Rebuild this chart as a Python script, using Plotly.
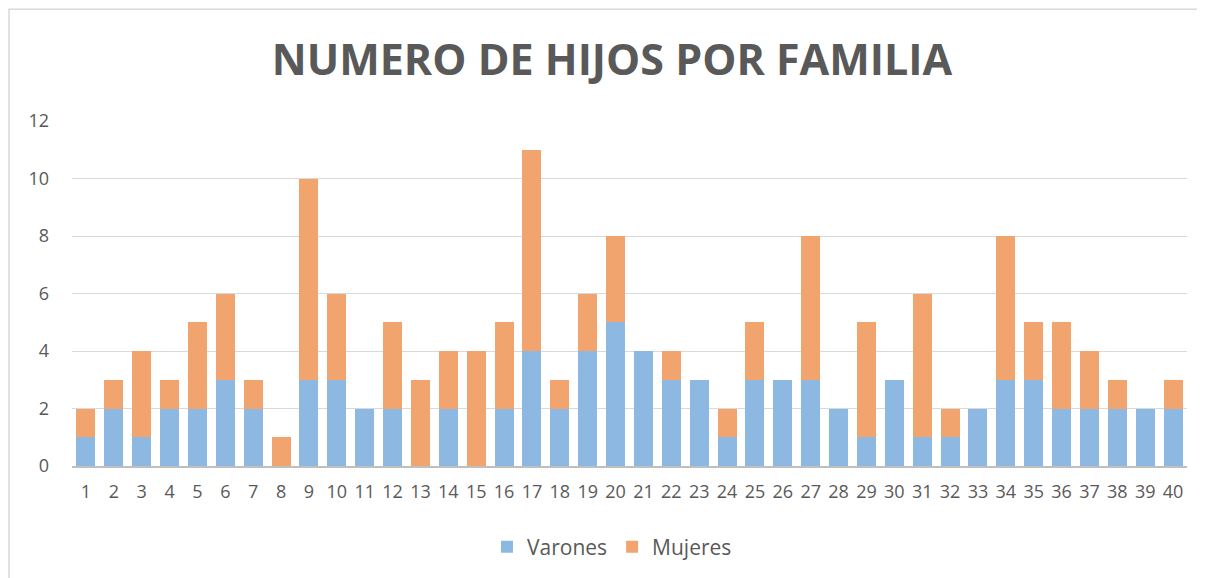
import plotly.graph_objects as go

familias = [str(i) for i in range(1, 41)]
varones = [1, 2, 1, 2, 2, 3, 2, 0, 3, 3, 2, 2, 0, 2, 0, 2, 4, 2, 4, 5,
           4, 3, 3, 1, 3, 3, 3, 2, 1, 3, 1, 1, 2, 3, 3, 2, 2, 2, 2, 2]
totales = [2, 3, 4, 3, 5, 6, 3, 1, 10, 6, 2, 5, 3, 4, 4, 5, 11, 3, 6, 8,
           4, 4, 3, 2, 5, 3, 8, 2, 5, 3, 6, 2, 2, 8, 5, 5, 4, 3, 2, 3]
mujeres = [t - v for t, v in zip(totales, varones)]
y_ticks = [0, 2, 4, 6, 8, 10, 12]

fig = go.Figure()
fig.add_trace(go.Bar(x=familias, y=varones, name="Varones",
                     marker=dict(color="#8DB8E2", line=dict(width=0))))
fig.add_trace(go.Bar(x=familias, y=mujeres, name="Mujeres",
                     marker=dict(color="#F1A46D", line=dict(width=0))))

OFF = 8  # page body margin
W, H = 1205 - OFF, 578 - OFF
L, T = 72 - OFF, 121 - OFF
pw = 1187 - 72
ph = 467 - 121
R = W - L - pw
B = H - T - ph

def py(y):  # target pixel y -> paper y
    return (467 - y) / ph

def px(x):
    return (x - 72) / pw

fig.update_layout(
    width=W, height=H,
    barmode="stack", bargap=0.32,
    margin=dict(l=L, r=R, t=T, b=B),
    paper_bgcolor="white", plot_bgcolor="white",
    font=dict(family="Open Sans", color="#595959", size=18),
    title=dict(text="<b>NUMERO DE HIJOS POR FAMILIA</b>", x=(612 - OFF) / W, xref="container",
               xanchor="center", y=1 - (60 - OFF) / H, yref="container", yanchor="middle",
               font=dict(family="Open Sans", size=43, color="#595959")),
    xaxis=dict(type="category", showgrid=False, showline=True, linecolor="#BFBFBF",
               linewidth=1.5, ticks="", tickfont=dict(size=18), ticklabelstandoff=9),
    yaxis=dict(range=[0, 12], tickvals=y_ticks, showgrid=True, gridcolor="#D9D9D9",
               gridwidth=1, zeroline=False, showline=False, ticks="",
               tickfont=dict(size=18), ticklabelstandoff=22),
    legend=dict(orientation="h", x=px(612), xanchor="center", y=py(547),
                yanchor="middle", font=dict(size=21, color="#595959"),
                itemwidth=30, traceorder="normal"),
    shapes=[dict(type="rect", xref="paper", yref="paper",
                 x0=px(9), x1=px(1203), y0=py(600), y1=py(9),
                 line=dict(color="#D9D9D9", width=1.5), fillcolor="rgba(0,0,0,0)",
                 layer="below")],
)

fig.write_html("out.html")
